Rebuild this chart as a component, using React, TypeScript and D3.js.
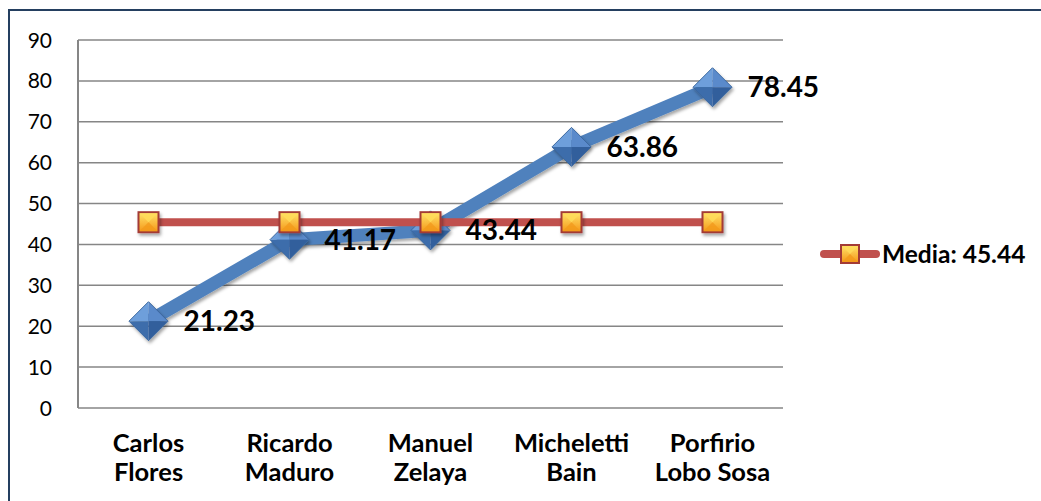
import React, { useEffect, useRef } from "react";
import * as d3 from "d3";

const categories = [["Carlos", "Flores"], ["Ricardo", "Maduro"], ["Manuel", "Zelaya"], ["Micheletti", "Bain"], ["Porfirio", "Lobo Sosa"]];
const seriesValues = [21.23, 41.17, 43.44, 63.86, 78.45];
const meanValue = 45.44;
const meanValues = [45.44, 45.44, 45.44, 45.44, 45.44];
const yTicks = [0, 10, 20, 30, 40, 50, 60, 70, 80, 90];
const legendLabel = "Media: 45.44";

const W = 1041;
const H = 501;
const FONT = "Lato, 'Open Sans', sans-serif";

export default function App() {
  const ref = useRef<SVGSVGElement>(null);

  useEffect(() => {
    document.body.style.margin = "0";
    const svg = d3.select(ref.current);
    svg.selectAll("*").remove();

    const left = 78, right = 783, top = 40, bottom = 408;
    const x = d3.scaleBand<number>().domain(d3.range(categories.length)).range([left, right]);
    const y = d3.scaleLinear().domain([0, 90]).range([bottom, top]);
    const cx = (i: number) => (x(i) as number) + x.bandwidth() / 2;

    const defs = svg.append("defs");
    const f = defs.append("filter").attr("id", "sh").attr("x", "-50%").attr("y", "-50%").attr("width", "200%").attr("height", "200%");
    f.append("feDropShadow").attr("dx", 1.5).attr("dy", 2.5).attr("stdDeviation", 1.8).attr("flood-color", "#000").attr("flood-opacity", 0.35);
    const sg = defs.append("linearGradient").attr("id", "sqg").attr("x1", 0).attr("y1", 0).attr("x2", 0).attr("y2", 1);
    sg.append("stop").attr("offset", "0%").attr("stop-color", "#FFE066");
    sg.append("stop").attr("offset", "100%").attr("stop-color", "#F59A1B");

    // border
    svg.append("path").attr("d", `M9,${H} L9,10 L${W},10`).attr("fill", "none").attr("stroke", "#243F60").attr("stroke-width", 2);

    // gridlines
    svg.append("g").selectAll("line").data(yTicks).join("line")
      .attr("x1", left).attr("x2", right).attr("y1", (d) => y(d)).attr("y2", (d) => y(d))
      .attr("stroke", "#868686").attr("stroke-width", 1.5);
    svg.append("line").attr("x1", left).attr("x2", left).attr("y1", top).attr("y2", bottom)
      .attr("stroke", "#868686").attr("stroke-width", 2);

    // y tick labels
    svg.append("g").selectAll("text").data(yTicks).join("text")
      .attr("x", 52).attr("y", (d) => y(d)).attr("dy", "0.36em").attr("text-anchor", "end")
      .attr("font-family", FONT).attr("font-size", 21).attr("fill", "#000").text((d) => d);

    // category labels
    const cat = svg.append("g").selectAll("text").data(categories).join("text")
      .attr("text-anchor", "middle").attr("font-family", FONT).attr("font-weight", "bold")
      .attr("font-size", 25.5).attr("fill", "#000");
    cat.each(function (d, i) {
      const t = d3.select(this);
      d.forEach((line, j) => {
        t.append("tspan").attr("x", cx(i)).attr("y", 452 + j * 29).text(line);
      });
    });

    // main series line
    const line = d3.line<number>().x((_, i) => cx(i)).y((d) => y(d));
    svg.append("path").datum(seriesValues).attr("d", line).attr("fill", "none")
      .attr("stroke", "#4F81BD").attr("stroke-width", 13).attr("stroke-linejoin", "round")
      .attr("filter", "url(#sh)");

    // diamonds
    const dg = svg.append("g").selectAll("g").data(seriesValues).join("g")
      .attr("transform", (d, i) => `translate(${cx(i)},${y(d)})`).attr("filter", "url(#sh)");
    const s = 19.5;
    const facets = [
      { p: `M0,0 L${-s},0 L0,${-s} Z`, c: "#6E9FDB" },
      { p: `M0,0 L0,${-s} L${s},0 Z`, c: "#5A8ACB" },
      { p: `M0,0 L${s},0 L0,${s} Z`, c: "#305F9C" },
      { p: `M0,0 L0,${s} L${-s},0 Z`, c: "#3D6DAB" },
    ];
    facets.forEach((fc) => dg.append("path").attr("d", fc.p).attr("fill", fc.c));
    dg.append("path").attr("d", `M0,${-s} L${s},0 L0,${s} L${-s},0 Z`).attr("fill", "none").attr("stroke", "#3A679F").attr("stroke-width", 1);

    // mean line
    svg.append("path").datum(meanValues).attr("d", line).attr("fill", "none")
      .attr("stroke", "#C0504D").attr("stroke-width", 8);

    const drawSquare = (g: d3.Selection<any, any, any, any>, h: number) => {
      g.append("rect").attr("x", -h).attr("y", -h).attr("width", 2 * h).attr("height", 2 * h)
        .attr("fill", "#A33B36");
      const i = h - 2;
      g.append("rect").attr("x", -i).attr("y", -i).attr("width", 2 * i).attr("height", 2 * i).attr("fill", "url(#sqg)");
      g.append("path").attr("d", `M${-i},${-i} L0,0 L${i},${-i} Z`).attr("fill", "#FFDC5A").attr("opacity", 0.8);
      g.append("path").attr("d", `M${-i},${i} L0,0 L${i},${i} Z`).attr("fill", "#F39A1C").attr("opacity", 0.8);
    };
    svg.append("g").selectAll("g").data(meanValues).join("g")
      .attr("transform", (d, i) => `translate(${cx(i)},${y(d)})`).attr("filter", "url(#sh)")
      .each(function () { drawSquare(d3.select(this), 11); });

    // value labels
    svg.append("g").selectAll("text").data(seriesValues).join("text")
      .attr("x", (_, i) => cx(i) + 35).attr("y", (d) => y(d)).attr("dy", "0.36em")
      .attr("font-family", FONT).attr("font-weight", "bold").attr("font-size", 28).attr("fill", "#000")
      .text((d) => d.toFixed(2));

    // legend
    const ly = 254;
    const lg = svg.append("g");
    lg.append("line").attr("x1", 824).attr("x2", 876).attr("y1", ly).attr("y2", ly)
      .attr("stroke", "#C0504D").attr("stroke-width", 8).attr("stroke-linecap", "round");
    const lm = lg.append("g").attr("transform", `translate(850,${ly})`);
    drawSquare(lm, 10);
    lg.append("text").attr("x", 882).attr("y", ly).attr("dy", "0.36em")
      .attr("font-family", FONT).attr("font-weight", "bold").attr("font-size", 24.5).attr("fill", "#000")
      .text(legendLabel);
  }, []);

  return (
    <div style={{ position: "absolute", left: 0, top: 0 }}>
      <svg ref={ref} width={W} height={H} style={{ display: "block", background: "#fff" }} />
    </div>
  );
}
